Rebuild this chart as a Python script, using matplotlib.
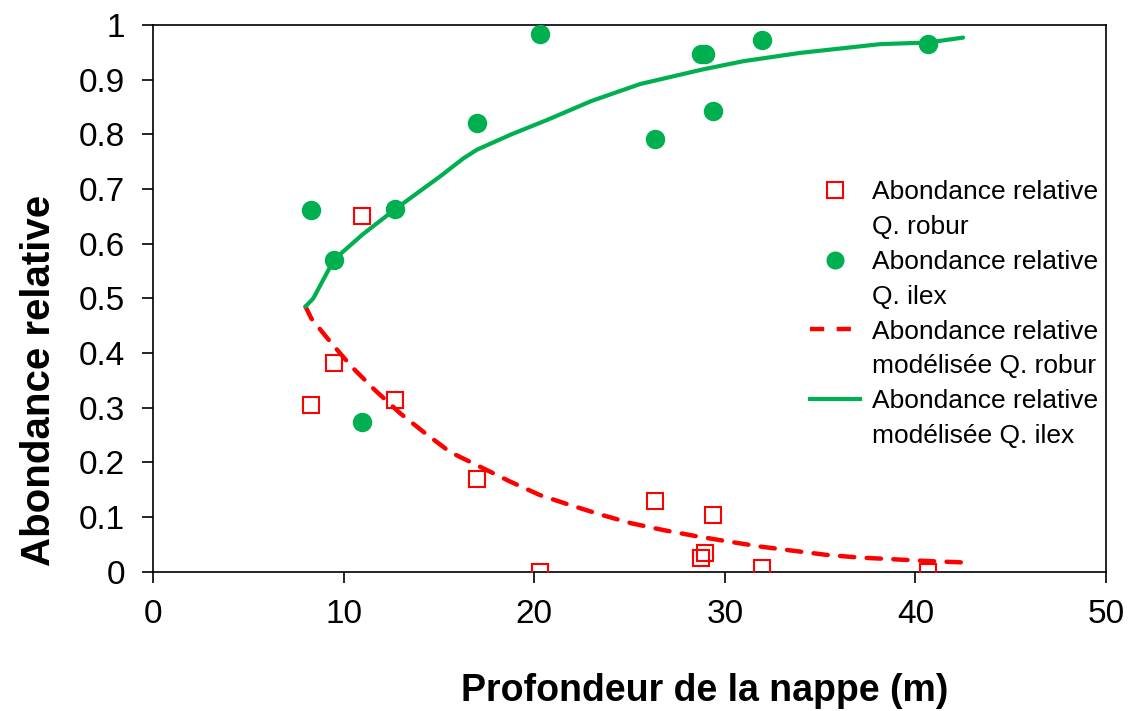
import numpy as np
import matplotlib.pyplot as plt
from matplotlib.lines import Line2D
from matplotlib.ticker import FuncFormatter

plt.rcParams["font.family"] = ["Liberation Sans", "DejaVu Sans"]

# observed relative abundance vs water table depth
depth = [8.31, 9.50, 10.95, 12.70, 17.01, 20.31, 26.35, 28.74, 28.97, 29.40, 31.97, 40.68]
robur = [0.305, 0.381, 0.651, 0.314, 0.169, 0.0, 0.129, 0.026, 0.035, 0.104, 0.006, 0.0]
ilex = [0.661, 0.571, 0.274, 0.663, 0.821, 0.983, 0.791, 0.947, 0.947, 0.843, 0.972, 0.966]

# modelled curves
mod_ilex_x = [8.0, 8.41, 9.5, 11.0, 12.7, 15.06, 16.28, 17.0, 18.8, 20.65, 23.0, 25.55,
              28.87, 31.0, 33.95, 38.14, 40.66, 42.5]
mod_ilex_y = [0.485, 0.500, 0.571, 0.617, 0.663, 0.723, 0.756, 0.772, 0.800, 0.826, 0.861, 0.892,
              0.919, 0.934, 0.949, 0.965, 0.968, 0.977]
mod_robur_x = [8.0, 8.31, 9.29, 10.42, 11.65, 12.96, 14.18, 15.58, 17.16, 18.73, 20.31,
               21.88, 23.53, 25.11, 26.8, 28.5, 30.23, 31.86, 33.67, 35.29, 37.0, 38.72,
               40.35, 42.5]
mod_robur_y = [0.485, 0.463, 0.421, 0.375, 0.332, 0.290, 0.256, 0.219, 0.192, 0.165, 0.140,
               0.122, 0.104, 0.0885, 0.076, 0.065, 0.055, 0.046, 0.038, 0.031, 0.026, 0.023,
               0.020, 0.017]

red = "#FF0000"
green = "#00B050"

fig = plt.figure(figsize=(11.3, 7.11), dpi=100)
ax = fig.add_axes([0.1354, 0.1959, 0.8434, 0.7689])

ax.plot(mod_robur_x, mod_robur_y, color=red, lw=3.2, linestyle=(0, (3.2, 2.8)),
        dash_capstyle="round", zorder=2)
ax.plot(mod_ilex_x, mod_ilex_y, color=green, lw=3, solid_capstyle="round", zorder=2)
ax.plot(depth, robur, "s", ms=12, mfc="none", mec=red, mew=1.5, zorder=3)
ax.plot(depth, ilex, "o", ms=13, color=green, zorder=3)

ax.set_xlim(0, 50)
ax.set_ylim(0, 1)
ax.set_xticks(np.arange(0, 51, 10))
ax.set_yticks(np.arange(0, 1.01, 0.1))
ax.yaxis.set_major_formatter(FuncFormatter(lambda v, p: "%g" % round(v, 1)))
ax.tick_params(direction="out", length=8, width=1.2, labelsize=24, pad=12)
for s in ax.spines.values():
    s.set_linewidth(1.2)

ax.set_xlabel("Profondeur de la nappe (m)", fontsize=27, fontweight="bold")
ax.set_ylabel("Abondance relative", fontsize=29, fontweight="bold")
ax.xaxis.set_label_coords(0.579, -0.186)
ax.yaxis.set_label_coords(-0.100, 0.35)

blank = Line2D([], [], linestyle="none")
handles = [
    Line2D([], [], marker="s", ms=11, mfc="none", mec=red, mew=1.5, linestyle="none"),
    blank,
    Line2D([], [], marker="o", ms=12, color=green, linestyle="none"),
    blank,
    Line2D([], [], color=red, lw=3.2, linestyle=(0, (3.2, 2.8))),
    blank,
    Line2D([], [], color=green, lw=3),
    blank,
]
labels = ["Abondance relative", "Q. robur",
          "Abondance relative", "Q. ilex",
          "Abondance relative", "modélisée Q. robur",
          "Abondance relative", "modélisée Q. ilex"]
ax.legend(handles, labels, loc="upper left", bbox_to_anchor=(0.689, 0.716),
          frameon=False, fontsize=19, borderpad=0, borderaxespad=0,
          handlelength=1.9, handletextpad=0.45, labelspacing=0.41)

plt.savefig("out.png", dpi=100)
